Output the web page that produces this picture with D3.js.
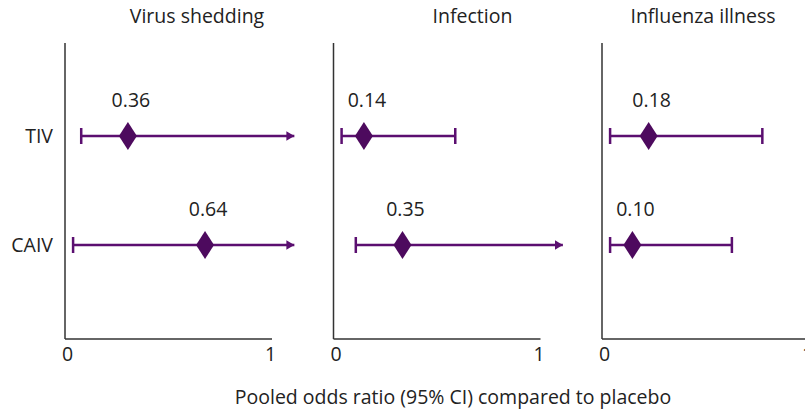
<!DOCTYPE html>
<html><head><meta charset="utf-8">
<script src="https://cdn.jsdelivr.net/npm/d3@7"></script>
<style>
body{margin:0;background:#fff;}
text{font-family:"Open Sans","Noto Sans",sans-serif;fill:#222;}
</style></head>
<body><svg id="c" width="805" height="413"></svg>
<script>
const panels = ["Virus shedding", "Infection", "Influenza illness"];
const groups = ["TIV", "CAIV"];
// point estimates as drawn, per panel [TIV, CAIV]
const estimates = [[0.30, 0.68], [0.14, 0.33], [0.22, 0.14]];
const lowers = [[0.07, 0.03], [0.03, 0.10], [0.03, 0.03]];
const uppers = [[1.12, 1.12], [0.59, 1.12], [0.78, 0.63]];
// true if the interval continues past the axis (drawn as arrow)
const open = [[true, true], [false, true], [false, false]];
const labels = [["0.36", "0.64"], ["0.14", "0.35"], ["0.18", "0.10"]];
const tickVals = [0, 1];
const xTitle = "Pooled odds ratio (95% CI) compared to placebo";

const FS = 19.5;
const svg = d3.select("#c");
const lineCol = "#5b0f70", fillCol = "#4d0a5e";
const panelX = [65, 333.5, 602];
const axTop = 43, axBottom = 339;
const y = d3.scalePoint().domain(groups).range([136, 245]);

svg.append("defs").append("marker")
  .attr("id", "arr").attr("viewBox", "0 0 10 12").attr("refX", 10).attr("refY", 6)
  .attr("markerWidth", 8).attr("markerHeight", 13).attr("markerUnits", "userSpaceOnUse")
  .attr("orient", "auto")
  .append("path").attr("d", "M0,0L10,6L0,12Z").attr("fill", lineCol);

panels.forEach((title, p) => {
  const x0 = panelX[p];
  const x = d3.scaleLinear().domain([0, 1]).range([x0 + 2, x0 + 205]);
  const g = svg.append("g");
  g.append("line").attr("x1", x0).attr("x2", x0).attr("y1", axTop).attr("y2", axBottom)
    .attr("stroke", "#333").attr("stroke-width", 1.5);
  const ax = d3.axisBottom(x).tickValues(tickVals).tickFormat(d3.format("d")).tickSize(0).tickPadding(8);
  const axg = g.append("g").attr("transform", `translate(0,${axBottom})`).call(ax);
  axg.select(".domain").remove();
  axg.selectAll("text").attr("font-size", FS).attr("font-family", '"Open Sans","Noto Sans",sans-serif').attr("fill", "#222");
  g.append("line").attr("x1", x0).attr("x2", x0 + 207).attr("y1", axBottom).attr("y2", axBottom)
    .attr("stroke", "#333").attr("stroke-width", 1.5);
  const titleDx = [132, 139, 101][p];
  g.append("text").attr("x", x0 + titleDx).attr("y", 23).attr("text-anchor", "middle")
    .attr("font-size", FS).text(title);

  groups.forEach((grp, i) => {
    const cy = y(grp);
    const lx = x(lowers[p][i]), ux = x(uppers[p][i]);
    g.append("line").attr("x1", lx).attr("x2", ux).attr("y1", cy).attr("y2", cy)
      .attr("stroke", lineCol).attr("stroke-width", 2.5)
      .attr("marker-end", open[p][i] ? "url(#arr)" : null);
    g.append("line").attr("x1", lx).attr("x2", lx).attr("y1", cy - 8).attr("y2", cy + 8)
      .attr("stroke", lineCol).attr("stroke-width", 2.5);
    if (!open[p][i]) {
      g.append("line").attr("x1", ux).attr("x2", ux).attr("y1", cy - 8).attr("y2", cy + 8)
        .attr("stroke", lineCol).attr("stroke-width", 2.5);
    }
    const ex = x(estimates[p][i]);
    g.append("path").attr("d", `M${ex},${cy - 14}L${ex + 9},${cy}L${ex},${cy + 14}L${ex - 9},${cy}Z`)
      .attr("fill", fillCol);
    g.append("text").attr("x", ex + 3).attr("y", cy - 29).attr("text-anchor", "middle")
      .attr("font-size", FS).text(labels[p][i]);
  });
});

groups.forEach(grp => {
  svg.append("text").attr("x", 53).attr("y", y(grp)).attr("dy", "0.35em")
    .attr("text-anchor", "end").attr("font-size", FS).text(grp);
});

svg.append("text").attr("x", 453).attr("y", 404).attr("text-anchor", "middle")
  .attr("font-size", FS).text(xTitle);
</script></body></html>
